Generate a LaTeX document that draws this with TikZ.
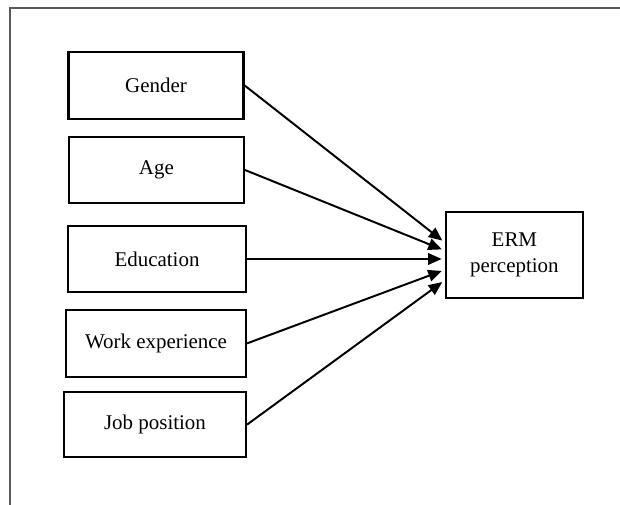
\documentclass[tikz,border=0pt]{standalone}
\usepackage{fontspec}
\setmainfont{Liberation Serif}
\usepackage{tikz}
\usetikzlibrary{arrows.meta}

\tikzset{
    factor/.style={draw, line width=1.5pt, fill=white, align=center,
        font=\fontsize{14.9}{18.5}\selectfont, inner sep=2pt},
    effect/.style={line width=1.4pt, -{Triangle[length=3.4mm, width=2.9mm]},
        shorten >=0.08cm},
}

\begin{document}
\begin{tikzpicture}
        \useasboundingbox (0, 0) rectangle (15.5, 12.625);
        % outer frame, open at the bottom and right
        \draw[black!65, line width=0.9pt] (0.25, 0) -- (0.25, 12.425) -- (15.5, 12.425);

        \node[factor, minimum width=4.375cm, minimum height=1.675cm] (gender) at (3.9, 10.49) {Gender};
        \node[factor, minimum width=4.375cm, minimum height=1.65cm] (age) at (3.91, 8.375) {Age};
        \node[factor, minimum width=4.45cm, minimum height=1.65cm] (edu) at (3.925, 6.15) {Education};
        \node[factor, minimum width=4.5cm, minimum height=1.675cm] (work) at (3.9, 4.04) {Work experience};
        \node[factor, minimum width=4.55cm, minimum height=1.625cm] (job) at (3.875, 2.01) {Job position};
        \node[factor, minimum width=3.425cm, minimum height=2.15cm] (erm) at (12.86, 6.26) {ERM\\perception};

        \draw[effect] (gender.east) -- ([yshift=0.3cm]erm.west);
        \draw[effect] (age.east) -- ([yshift=0.1cm]erm.west);
        \draw[effect] (edu.east) -- ([yshift=-0.11cm]erm.west);
        \draw[effect] (work.east) -- ([yshift=-0.38cm]erm.west);
        \draw[effect] (job.east) -- ([yshift=-0.64cm]erm.west);
    \end{tikzpicture}
\end{document}
